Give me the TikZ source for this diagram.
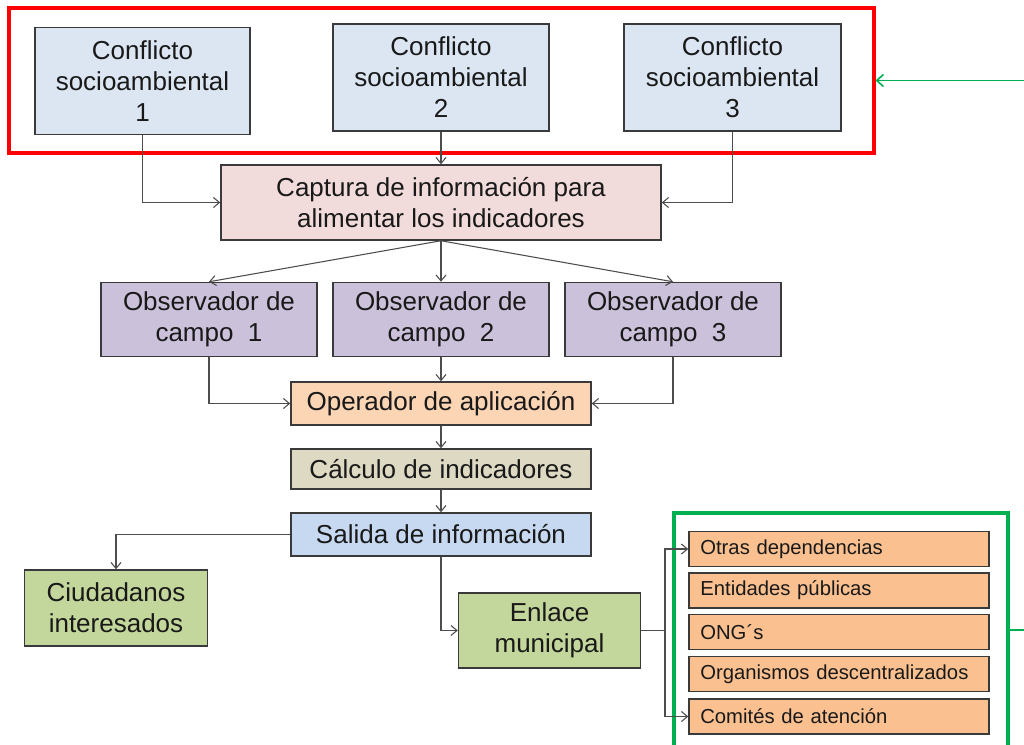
\documentclass[tikz,border=0pt]{standalone}
\usepackage{fontspec}
\setmainfont{Liberation Sans}
\usetikzlibrary{arrows.meta}
\definecolor{bordc}{HTML}{3A3A3A}
\definecolor{linec}{HTML}{4D4D4D}
\definecolor{cblue}{HTML}{DCE6F2}
\definecolor{cpink}{HTML}{F2DCDB}
\definecolor{cpurp}{HTML}{CCC1DA}
\definecolor{cpeach}{HTML}{FCD5B5}
\definecolor{ctan}{HTML}{DDD9C3}
\definecolor{csal}{HTML}{C6D9F1}
\definecolor{cgreen}{HTML}{C3D69B}
\definecolor{corange}{HTML}{FAC090}
\definecolor{gline}{HTML}{00B050}
\definecolor{rline}{HTML}{FF0000}
\tikzset{
  box/.style={draw=bordc, line width=1.1pt, align=center, inner sep=0pt,
    font=\fontsize{19.5}{23.2}\selectfont, text=black!90},
  sbox/.style={draw=bordc, line width=1.1pt, fill=corange, inner sep=0pt,
    minimum width=225pt, minimum height=26.25pt, text width=208pt, align=left,
    font=\fontsize{15.2}{17.5}\selectfont, text=black!90},
  conn/.style={draw=linec, line width=0.8pt},
  arr/.style={conn, -{Straight Barb[length=4.5pt,width=7.5pt]}},
}
\begin{document}
\begin{tikzpicture}[x=0.75pt,y=-0.75pt]
\useasboundingbox (0,0) rectangle (1024,744);
% red frame
\node[draw=rline, line width=2.3pt, minimum width=648.75pt, minimum height=108.75pt, inner sep=0pt] (red) at (441.5,80.5) {};
% conflict boxes
\node[box, fill=cblue, minimum width=161.25pt, minimum height=80.25pt] (c1) at (142.5,81) {Conflicto\\socioambiental\\1};
\node[box, fill=cblue, minimum width=162pt, minimum height=80.25pt] (c2) at (441,77.5) {Conflicto\\socioambiental\\2};
\node[box, fill=cblue, minimum width=162.75pt, minimum height=80.25pt] (c3) at (732.5,77.5) {Conflicto\\socioambiental\\3};
% capture
\node[box, fill=cpink, minimum width=330pt, minimum height=56.25pt] (cap) at (441,202.5) {Captura de información para\\alimentar los indicadores};
% observers
\node[box, fill=cpurp, minimum width=162pt, minimum height=55.5pt] (o1) at (209,319.5) {Observador de\\campo\ \ 1};
\node[box, fill=cpurp, minimum width=162pt, minimum height=55.5pt] (o2) at (441,319.5) {Observador de\\campo\ \ 2};
\node[box, fill=cpurp, minimum width=162pt, minimum height=55.5pt] (o3) at (673,319.5) {Observador de\\campo\ \ 3};
% chain
\node[box, fill=cpeach, minimum width=225pt, minimum height=32.25pt] (op) at (441,403.5) {Operador de aplicación};
\node[box, fill=ctan, minimum width=225pt, minimum height=30pt] (calc) at (441,469) {Cálculo de indicadores};
\node[box, fill=csal, minimum width=225pt, minimum height=32.25pt] (sal) at (441,534.5) {Salida de información};
\node[box, fill=cgreen, minimum width=137.25pt, minimum height=57pt] (ciu) at (116,608) {Ciudadanos\\interesados};
\node[box, fill=cgreen, minimum width=136.5pt, minimum height=56.25pt] (enl) at (549.5,630.5) {Enlace\\municipal};
% green frame
\node[draw=gline, line width=2.3pt, minimum width=250.5pt, minimum height=185.25pt, inner sep=0pt] (gb) at (841,636.5) {};
% orange boxes
\node[sbox] (r1) at (839,549) {Otras dependencias};
\node[sbox] (r2) at (839,590.5) {Entidades públicas};
\node[sbox] (r3) at (839,632) {ONG´s};
\node[sbox] (r4) at (839,674) {Organismos descentralizados};
\node[sbox] (r5) at (839,716.5) {Comités de atención};
% connectors
\draw[arr] (c1.south) |- (cap.west);
\draw[arr] (c2.south) -- (cap.north);
\draw[arr] (c3.south) |- (cap.east);
\draw[arr] (cap.south) -- (o1.north);
\draw[arr] (cap.south) -- (o2.north);
\draw[arr] (cap.south) -- (o3.north);
\draw[arr] (o1.south) |- (op.west);
\draw[arr] (o2.south) -- (op.north);
\draw[arr] (o3.south) |- (op.east);
\draw[arr] (op.south) -- (calc.north);
\draw[arr] (calc.south) -- (sal.north);
\draw[arr] (sal.west) -| (ciu.north);
\draw[arr] (sal.south) |- (enl.west);
\coordinate (br) at (665,630.5);
\draw[conn] (enl.east) -- (br);
\draw[arr] (br) |- (r1.west);
\draw[arr] (br) |- (r5.west);
% green feedback
\coordinate (gout) at (1040,630);
\draw[draw=gline, line width=1.2pt, -{Straight Barb[length=5pt,width=9pt]}] (gb.east |- gout) -- (gout) |- (red.east);
\end{tikzpicture}
\end{document}
